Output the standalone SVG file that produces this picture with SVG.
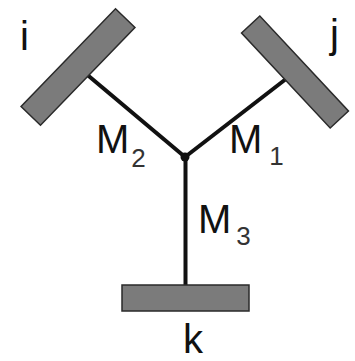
<svg xmlns="http://www.w3.org/2000/svg" width="355" height="361" viewBox="0 0 355 361">
<style>
.bar{fill:#7b7b7b;stroke:#2a2a2a;stroke-width:1.5}
.arm{stroke:#111;stroke-width:4;fill:none}
.lbl{font-family:"Liberation Sans",Arial,sans-serif;font-size:40px;fill:#111}
.sub{font-family:"Liberation Sans",Arial,sans-serif;font-size:26px;fill:#333}
</style>
<rect width="355" height="361" fill="#fff"/>
<g id="connectors">
<line class="arm" x1="185" y1="157" x2="78" y2="67"/>
<line class="arm" x1="185" y1="157" x2="295" y2="72"/>
<line class="arm" x1="185.5" y1="157" x2="185.5" y2="290"/>
<circle cx="185" cy="157" r="4.5" fill="#111"/>
</g>
<g id="node-i">
<rect class="bar" x="-68" y="-13.5" width="136" height="27" transform="translate(78,67) rotate(-46)"/>
<text class="lbl" x="20" y="50">i</text>
</g>
<g id="node-j">
<rect class="bar" x="-65" y="-12.5" width="130" height="25" transform="translate(295,72) rotate(47)"/>
<text class="lbl" x="330" y="48">j</text>
</g>
<g id="node-k">
<rect class="bar" x="122" y="285" width="127" height="26"/>
<text class="lbl" x="183" y="353">k</text>
</g>
<g id="labels">
<text class="lbl" x="96" y="153">M<tspan class="sub" dx="2" dy="14">2</tspan></text>
<text class="lbl" x="229" y="153">M<tspan class="sub" dx="7" dy="12">1</tspan></text>
<text class="lbl" x="198" y="233">M<tspan class="sub" dx="5" dy="12">3</tspan></text>
</g>
</svg>
